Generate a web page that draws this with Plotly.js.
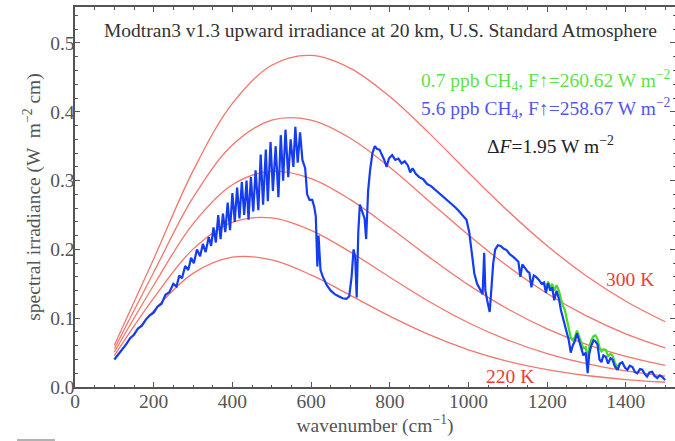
<!DOCTYPE html>
<html><head><meta charset="utf-8">
<script src="https://cdn.plot.ly/plotly-3.0.1.min.js"></script>
<style>html,body{margin:0;padding:0;overflow:hidden;background:#fff}</style>
</head><body>
<div id="chart" style="width:682px;height:441px"></div>
<script>
// Planck reference curves (read at 100 cm^-1 steps)
const planckNu = [100,200,300,400,500,600,700,800,900,1000,1100,1200,1300,1400,1500];
const planck220 = [0.0405,0.1109,0.1652,0.1888,0.1848,0.1629,0.1332,0.1029,0.0760,0.0541,0.0374,0.0253,0.0167,0.0108,0.0069];
const planck240 = [0.0456,0.1292,0.2004,0.2394,0.2457,0.2277,0.1961,0.1596,0.1243,0.0934,0.0682,0.0486,0.0339,0.0233,0.0157];
const planck260 = [0.0506,0.1479,0.2371,0.2939,0.3137,0.3030,0.2724,0.2317,0.1888,0.1484,0.1134,0.0846,0.0618,0.0444,0.0314];
const planck280 = [0.0557,0.1668,0.2751,0.3516,0.3879,0.3880,0.3616,0.3193,0.2701,0.2208,0.1754,0.1360,0.1033,0.0772,0.0568];
const planck300 = [0.0608,0.1860,0.3141,0.4121,0.4677,0.4819,0.4632,0.4222,0.3690,0.3117,0.2561,0.2053,0.1614,0.1247,0.0949];

// 5.6 ppb CH4 spectrum (blue)
const blueNu = [100,110,120,130,140,150,160,170,180,190,200,210,220,230,240,250,258,265,272,280,288,295,302,310,318,325,332,340,346,352,358,364,370,376,382,388,394,400,406,412,418,424,430,436,441,447,453,459,466,472,478,485,490,497,503,510,517,523,529,535,542,548,555,560,566,572,578,585,590,596,603,608,612,616,619,624,630,640,650,660,670,680,690,697,703,708,712,716,720,724,730,736,740,745,750,756,762,768,774,780,786,792,798,806,814,822,830,838,846,852,858,866,875,885,895,905,915,925,935,945,955,965,975,985,995,1002,1008,1015,1022,1030,1036,1040,1043,1048,1054,1058,1063,1068,1075,1082,1090,1097,1105,1114,1120,1127,1132,1137,1145,1150,1155,1160,1166,1172,1180,1186,1192,1197,1202,1208,1213,1218,1224,1230,1235,1240,1245,1250,1255,1260,1265,1270,1276,1281,1286,1292,1298,1303,1307,1312,1318,1323,1328,1333,1338,1343,1349,1355,1361,1366,1372,1379,1385,1391,1398,1404,1410,1417,1423,1429,1436,1442,1448,1454,1460,1467,1473,1480,1486,1492,1500];
const blueVal = [0.040,0.047,0.055,0.062,0.071,0.076,0.085,0.089,0.098,0.104,0.108,0.117,0.121,0.134,0.138,0.150,0.146,0.162,0.158,0.176,0.170,0.188,0.180,0.200,0.190,0.208,0.196,0.218,0.205,0.232,0.210,0.250,0.215,0.252,0.225,0.268,0.228,0.282,0.240,0.290,0.245,0.298,0.250,0.300,0.243,0.305,0.255,0.315,0.257,0.338,0.265,0.345,0.270,0.356,0.285,0.350,0.276,0.366,0.300,0.374,0.305,0.360,0.320,0.378,0.326,0.370,0.330,0.318,0.280,0.272,0.272,0.262,0.248,0.175,0.220,0.170,0.160,0.148,0.140,0.135,0.132,0.129,0.128,0.132,0.160,0.200,0.190,0.130,0.225,0.265,0.255,0.245,0.215,0.285,0.315,0.340,0.350,0.346,0.345,0.338,0.330,0.320,0.332,0.337,0.330,0.332,0.325,0.328,0.322,0.312,0.318,0.310,0.305,0.302,0.295,0.292,0.287,0.283,0.278,0.272,0.268,0.262,0.256,0.250,0.243,0.225,0.195,0.165,0.150,0.142,0.135,0.195,0.140,0.125,0.109,0.140,0.180,0.200,0.206,0.205,0.201,0.199,0.193,0.189,0.185,0.182,0.160,0.178,0.172,0.168,0.166,0.145,0.162,0.160,0.155,0.150,0.152,0.137,0.151,0.140,0.145,0.126,0.140,0.128,0.112,0.100,0.090,0.078,0.068,0.050,0.060,0.066,0.078,0.068,0.058,0.046,0.050,0.020,0.048,0.060,0.068,0.066,0.062,0.040,0.036,0.046,0.044,0.034,0.042,0.040,0.030,0.025,0.034,0.036,0.028,0.025,0.031,0.029,0.022,0.020,0.026,0.025,0.019,0.015,0.021,0.022,0.016,0.013,0.017,0.015,0.010];

// 0.7 ppb CH4 spectrum (green) where it departs from the blue one
const greenNu = [1192,1197,1202,1208,1213,1218,1224,1230,1235,1240,1245,1250,1255,1260,1265,1270,1276,1281,1286,1292,1298,1303,1307,1312,1318,1323,1328,1333,1338,1343,1349,1355,1361,1366,1372,1379,1385];
const greenVal = [0.152,0.140,0.153,0.145,0.150,0.140,0.148,0.140,0.128,0.118,0.112,0.100,0.088,0.072,0.068,0.072,0.082,0.075,0.066,0.056,0.058,0.040,0.058,0.068,0.074,0.075,0.070,0.058,0.052,0.055,0.054,0.045,0.048,0.046,0.036,0.028,0.034];

const titleText = "Modtran3 v1.3 upward irradiance at 20 km, U.S. Standard Atmosphere";
const greenLabel = "0.7 ppb CH<sub>4</sub>, F↑=260.62 W m<sup>−2</sup>";
const blueLabel = "5.6 ppb CH<sub>4</sub>, F↑=258.67 W m<sup>−2</sup>";
const deltaLabel = "Δ<i>F</i>=1.95 W m<sup>−2</sup>";
const hotLabel = "300 K";
const coldLabel = "220 K";
const xTitle = "wavenumber (cm<sup>−1</sup>)";
const yTitle = "spectral irradiance (W  m<sup>−2</sup> cm)";

const red = 'rgb(242,118,108)';
const serif = 'Liberation Serif';
const FS = 19.5;
const traces = [];
[planck220, planck240, planck260, planck280, planck300].forEach(arr => {
  traces.push({x: planckNu, y: arr, mode: 'lines', line: {color: red, width: 1.3, shape: 'spline', smoothing: 1}});
});
traces.push({x: greenNu, y: greenVal, mode: 'lines', line: {color: 'rgb(70,220,40)', width: 2.2}});
traces.push({x: blueNu, y: blueVal, mode: 'lines', line: {color: 'rgb(20,60,240)', width: 2.2}});

const axisCommon = {
  showgrid: false, zeroline: false, showline: true, mirror: 'ticks',
  linecolor: '#555', linewidth: 1.6, ticks: 'inside', ticklen: 5, tickcolor: '#555',
  tickfont: {family: serif, size: FS, color: '#555'}
};
// positions below are in screen pixels; plot area is x 75..675, y 7..387
const annos = [
  {x: 380, y: 31, text: titleText, color: '#333'},
  {x: 673, y: 80, text: greenLabel, color: 'rgb(95,225,75)', anchor: 'right'},
  {x: 673, y: 108, text: blueLabel, color: 'rgb(85,85,235)', anchor: 'right'},
  {x: 550, y: 145, text: deltaLabel, color: '#222'},
  {x: 630, y: 279, text: hotLabel, color: 'rgb(235,60,50)'},
  {x: 510, y: 376, text: coldLabel, color: 'rgb(235,60,50)'}
];
const layout = {
  width: 682, height: 441,
  margin: {l: 75, r: 7, t: 7, b: 54},
  paper_bgcolor: '#fff', plot_bgcolor: '#fff',
  showlegend: false,
  font: {family: serif},
  xaxis: Object.assign({}, axisCommon, {
    range: [0, 1525], tickvals: [0,200,400,600,800,1000,1200,1400],
    ticklabelstandoff: -4,
    minor: {dtick: 50, tick0: 0, ticks: 'inside', ticklen: 2.5, tickcolor: '#555'},
    title: {text: xTitle, font: {family: serif, size: FS, color: '#555'}, standoff: 2}
  }),
  yaxis: Object.assign({}, axisCommon, {
    range: [0, 0.5523], tickvals: [0,0.1,0.2,0.3,0.4,0.5], tickformat: '.1f',
    ticklabelstandoff: -5,
    minor: {dtick: 0.02, tick0: 0, ticks: 'inside', ticklen: 2.5, tickcolor: '#555'},
    title: {text: yTitle, font: {family: serif, size: FS, color: '#555'}, standoff: 4}
  }),
  annotations: annos.map(a => ({
    xref: 'paper', yref: 'paper',
    x: (a.x - 75) / 600, y: (387 - a.y) / 380,
    text: a.text, showarrow: false,
    xanchor: a.anchor || 'center', yanchor: 'middle',
    font: {family: serif, size: FS, color: a.color}
  })),
  shapes: [
    {type: 'line', xref: 'paper', yref: 'paper', x0: (17-75)/600, x1: (55-75)/600, y0: (387-440)/380, y1: (387-440)/380, line: {color: '#999', width: 1.5}}
  ]
};
Plotly.newPlot('chart', traces, layout, {displayModeBar: false, staticPlot: true});
</script>
</body></html>
